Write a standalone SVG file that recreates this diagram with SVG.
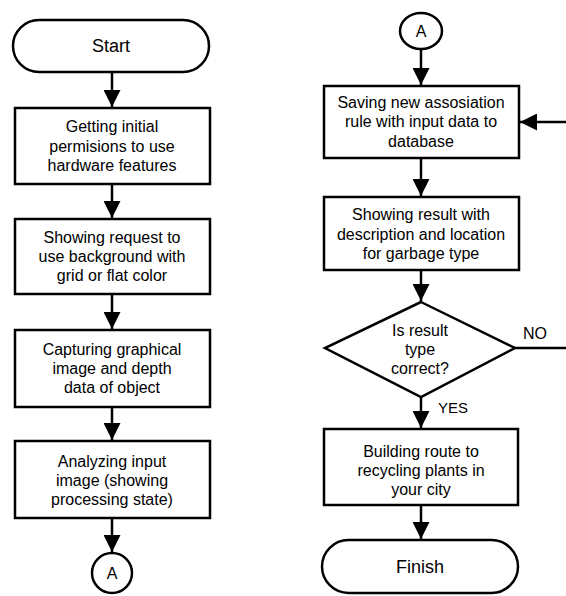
<svg xmlns="http://www.w3.org/2000/svg" width="566" height="596" viewBox="0 0 566 596">
<style>
.s{fill:#fff;stroke:#000;stroke-width:2.5}
.t{font-family:"Liberation Sans",Arial,sans-serif;font-size:16px;fill:#000;text-anchor:middle}
.big{font-size:18px}
.l{fill:none;stroke:#000;stroke-width:2.5}
</style>
<defs>
<marker id="ah" markerUnits="userSpaceOnUse" markerWidth="18" markerHeight="17" refX="17" refY="8.5" orient="auto">
<path d="M0,0 L17,8.5 L0,17 Z" fill="#000"/>
</marker>
</defs>
<rect width="566" height="596" fill="#fff"/>
<g id="connectors">
<line class="l" x1="112" y1="72" x2="112" y2="107" marker-end="url(#ah)"/>
<line class="l" x1="112" y1="184" x2="112" y2="218" marker-end="url(#ah)"/>
<line class="l" x1="112" y1="294" x2="112" y2="329" marker-end="url(#ah)"/>
<line class="l" x1="112" y1="407" x2="112" y2="440" marker-end="url(#ah)"/>
<line class="l" x1="112" y1="518" x2="112" y2="552" marker-end="url(#ah)"/>
<line class="l" x1="421" y1="49" x2="421" y2="85" marker-end="url(#ah)"/>
<line class="l" x1="421" y1="158" x2="421" y2="196" marker-end="url(#ah)"/>
<line class="l" x1="421" y1="270" x2="421" y2="301" marker-end="url(#ah)"/>
<line class="l" x1="421" y1="398" x2="421" y2="428" marker-end="url(#ah)"/>
<line class="l" x1="421" y1="505" x2="421" y2="539" marker-end="url(#ah)"/>
<line class="l" x1="566" y1="122" x2="520" y2="122" marker-end="url(#ah)"/>
<line class="l" x1="515" y1="348" x2="566" y2="348"/>
<text class="t" x="535" y="339">NO</text>
<text class="t" x="453" y="413" style="font-size:15px">YES</text>
</g>
<g id="start">
<rect class="s" x="13" y="20" width="196" height="52" rx="26"/>
<text class="t big" x="111" y="52">Start</text>
</g>
<g id="box1">
<rect class="s" x="15" y="108" width="195" height="76"/>
<text class="t" x="112" y="132">Getting initial</text>
<text class="t" x="112" y="152">permisions to use</text>
<text class="t" x="112" y="171">hardware features</text>
</g>
<g id="box2">
<rect class="s" x="15" y="219" width="195" height="75"/>
<text class="t" x="112" y="243">Showing request to</text>
<text class="t" x="112" y="262">use background with</text>
<text class="t" x="112" y="281">grid or flat color</text>
</g>
<g id="box3">
<rect class="s" x="15" y="330" width="195" height="77"/>
<text class="t" x="112" y="355">Capturing graphical</text>
<text class="t" x="112" y="374">image and depth</text>
<text class="t" x="112" y="393">data of object</text>
</g>
<g id="box4">
<rect class="s" x="15" y="441" width="195" height="77"/>
<text class="t" x="112" y="467">Analyzing input</text>
<text class="t" x="112" y="486">image (showing</text>
<text class="t" x="112" y="505">processing state)</text>
</g>
<g id="connA1">
<circle class="s" cx="112" cy="573" r="20"/>
<text class="t" x="112" y="579">A</text>
</g>
<g id="connA2">
<ellipse class="s" cx="421" cy="31" rx="21" ry="18"/>
<text class="t" x="421" y="37">A</text>
</g>
<g id="box5">
<rect class="s" x="324" y="86" width="195" height="72"/>
<text class="t" x="421" y="108">Saving new assosiation</text>
<text class="t" x="421" y="127">rule with input data to</text>
<text class="t" x="421" y="147">database</text>
</g>
<g id="box6">
<rect class="s" x="324" y="197" width="195" height="73"/>
<text class="t" x="421" y="220">Showing result with</text>
<text class="t" x="421" y="240">description and location</text>
<text class="t" x="421" y="259">for garbage type</text>
</g>
<g id="decision">
<polygon class="s" points="421,302 515,348 421,397 325,348"/>
<text class="t" x="420" y="336">Is result</text>
<text class="t" x="420" y="355">type</text>
<text class="t" x="420" y="374">correct?</text>
</g>
<g id="box7">
<rect class="s" x="324" y="429" width="194" height="76"/>
<text class="t" x="421" y="457">Building route to</text>
<text class="t" x="421" y="476">recycling plants in</text>
<text class="t" x="421" y="495">your city</text>
</g>
<g id="finish">
<rect class="s" x="322" y="540" width="196" height="53" rx="26.5"/>
<text class="t big" x="420" y="573">Finish</text>
</g>
</svg>
